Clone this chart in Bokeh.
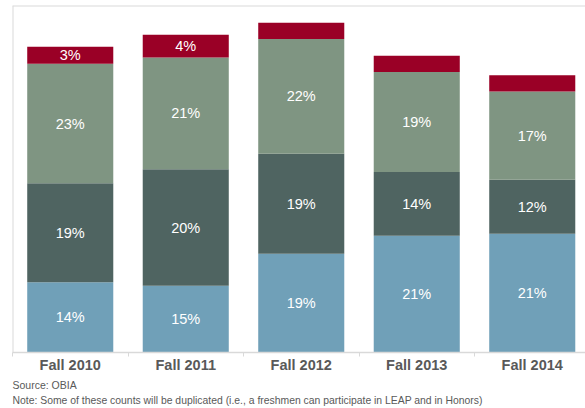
from bokeh.plotting import figure
from bokeh.models import ColumnDataSource, Range1d, FixedTicker, LinearAxis, Span, Title
from bokeh.core.properties import value
from bokeh.embed import file_html
from bokeh.resources import INLINE

# ---- data (bar heights are relative counts) ----
categories = ["Fall 2010", "Fall 2011", "Fall 2012", "Fall 2013", "Fall 2014"]
seg_blue = [70.3, 66.7, 98.7, 116.7, 118.7]
seg_dark = [99.0, 116.6, 100.0, 63.7, 54.0]
seg_green = [119.4, 111.7, 114.7, 100.0, 88.3]
seg_red = [17.0, 22.7, 16.3, 16.3, 16.3]
lab_blue = ["14%", "15%", "19%", "21%", "21%"]
lab_dark = ["19%", "20%", "19%", "14%", "12%"]
lab_green = ["23%", "21%", "22%", "19%", "17%"]
lab_red = ["3%", "4%", "", "", ""]

series = ["blue", "dark", "green", "red"]
colors = ["#70A0B8", "#4F6461", "#7F9582", "#9A0026"]

xs = list(range(len(categories)))
src = ColumnDataSource(dict(x=xs, blue=seg_blue, dark=seg_dark, green=seg_green, red=seg_red))

FONT = "Liberation Sans"
GRID = "#D9D9D9"

p = figure(width=585, height=408, output_backend="svg", toolbar_location=None,
           x_range=Range1d(-0.5, 4.461), y_range=Range1d(0, 347),
           x_axis_location=None, y_axis_location=None,
           min_border_left=12, min_border_right=0, min_border_top=5, min_border_bottom=56)
p.outline_line_color = None
p.xgrid.visible = False
p.ygrid.visible = False
p.background_fill_color = "white"
p.border_fill_color = "white"

p.vbar_stack(series, x="x", width=0.745, color=colors, line_color=None, source=src)

# segment labels at the middle of each segment
all_vals = [seg_blue, seg_dark, seg_green, seg_red]
all_labs = [lab_blue, lab_dark, lab_green, lab_red]
lx, ly, lt = [], [], []
for i in xs:
    base = 0.0
    for vals, labs in zip(all_vals, all_labs):
        lx.append(i)
        ly.append(base + vals[i] / 2.0)
        lt.append(labs[i])
        base += vals[i]
p.text(x=lx, y=ly, text=lt, text_align="center", text_baseline="middle",
       text_color="#FFFFFF", text_font=value(FONT), text_font_size="14.5px")

# x axis with category labels and boundary ticks
xaxis = LinearAxis(ticker=FixedTicker(ticks=xs, minor_ticks=[i - 0.5 for i in range(len(categories) + 1)]))
xaxis.major_label_overrides = {i: c for i, c in zip(xs, categories)}
xaxis.major_tick_in = 0
xaxis.major_tick_out = 0
xaxis.minor_tick_in = 0
xaxis.minor_tick_out = 4
xaxis.minor_tick_line_color = GRID
xaxis.axis_line_color = GRID
xaxis.axis_line_width = 1.5
xaxis.major_label_standoff = 0
xaxis.major_label_text_font = FONT
xaxis.major_label_text_font_style = "bold"
xaxis.major_label_text_font_size = "14.5px"
xaxis.major_label_text_color = "#595959"
p.add_layout(xaxis, "below")

# left and top frame lines
p.add_layout(Span(location=-0.5, dimension="height", line_color=GRID, line_width=2))
p.add_layout(Span(location=347, dimension="width", line_color=GRID, line_width=2))

# footnotes
p.add_layout(Title(text="Source: OBIA", align="left", text_font=FONT, text_font_size="10.5px",
                   text_font_style="normal", text_color="#595959", standoff=3), "below")
p.add_layout(Title(text="Note: Some of these counts will be duplicated (i.e., a freshmen can participate in LEAP and in Honors)",
                   align="left", text_font=FONT, text_font_size="10.4px",
                   text_font_style="normal", text_color="#595959", standoff=0), "below")

open("out.html", "w").write(file_html(p, INLINE))
